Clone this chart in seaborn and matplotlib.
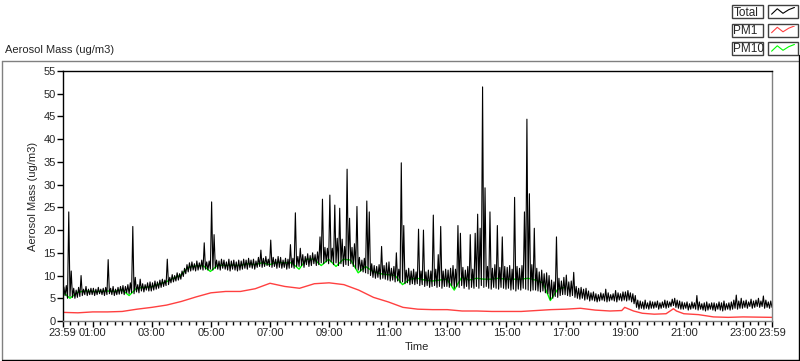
import numpy as np
import matplotlib
matplotlib.use("Agg")
import matplotlib.pyplot as plt
import seaborn as sns
from matplotlib.lines import Line2D
from matplotlib.patches import Rectangle

# clock hours, the record starts at 23:59 of the previous day
start_hour = -1 / 60
end_hour = 23 + 59 / 60

# Total aerosol mass (ug/m3): lowest and highest reading in each 5-minute window
total_low = [
    5.5, 5.6, 5.0, 5.4, 5.2, 5.0, 5.2, 5.4, 5.6, 5.8, 5.6, 5.8,            # 00
    5.8, 5.6, 5.8, 6.0, 5.8, 5.6, 5.8, 6.0, 5.8, 5.6, 5.8, 5.9,            # 01
    6.0, 5.8, 6.2, 6.0, 6.2, 6.0, 6.4, 6.2, 6.6, 6.4, 6.8, 6.6,            # 02
    6.6, 6.8, 7.0, 7.2, 7.4, 7.6, 7.8, 8.0, 8.4, 8.6, 8.8, 9.0,            # 03
    9.2, 9.8, 10.4, 10.8, 11.0, 11.2, 11.0, 11.2, 11.4, 11.2, 11.4, 11.2,  # 04
    11.4, 11.2, 11.6, 11.4, 11.2, 11.6, 11.4, 11.2, 11.0, 11.4, 11.2, 11.0,  # 05
    11.2, 11.4, 11.6, 11.4, 11.8, 11.6, 11.4, 11.8, 12.0, 11.8, 12.0, 12.2,  # 06
    12.0, 11.8, 12.0, 11.6, 11.8, 11.6, 11.8, 11.4, 11.6, 11.8, 11.6, 12.0,  # 07
    12.0, 12.2, 11.8, 12.4, 12.0, 12.2, 12.6, 12.2, 12.4, 12.8, 12.6, 13.0,  # 08
    12.6, 13.0, 12.4, 12.8, 12.2, 12.6, 12.0, 12.4, 12.2, 12.6, 12.0, 11.6,  # 09
    11.2, 11.0, 10.8, 10.6, 10.4, 10.0, 9.6, 9.4, 9.6, 9.2, 9.4, 9.2,      # 10
    9.0, 8.8, 9.0, 8.6, 8.8, 8.4, 8.6, 8.2, 8.4, 8.0, 8.2, 8.0,            # 11
    8.2, 7.8, 8.0, 7.6, 7.8, 7.4, 7.6, 7.8, 7.4, 7.6, 7.2, 7.6,            # 12
    7.6, 7.4, 7.8, 7.2, 7.6, 7.4, 7.8, 7.2, 7.6, 7.0, 7.4, 7.2,            # 13
    7.6, 7.2, 7.8, 7.4, 7.6, 7.2, 7.0, 7.4, 7.2, 7.0, 7.4, 7.2,            # 14
    7.0, 7.2, 6.8, 7.0, 6.6, 7.0, 6.8, 7.2, 7.0, 6.8, 6.6, 6.8,            # 15
    6.8, 6.6, 6.4, 6.6, 6.2, 6.0, 4.8, 5.0, 5.4, 5.2, 5.6, 5.8,            # 16
    5.8, 5.6, 5.4, 5.6, 5.2, 5.0, 4.8, 5.0, 4.6, 4.8, 4.4, 4.6,            # 17
    4.4, 4.2, 4.4, 4.6, 4.4, 4.2, 4.4, 4.6, 4.4, 4.2, 4.6, 4.4,            # 18
    4.6, 4.4, 4.6, 4.2, 3.8, 3.0, 2.6, 2.8, 2.6, 2.8, 2.6, 2.8,            # 19
    2.8, 3.0, 2.6, 2.8, 3.0, 2.8, 3.0, 3.2, 3.4, 3.0, 2.8, 2.6,            # 20
    2.6, 2.8, 2.4, 2.6, 2.8, 2.6, 2.4, 2.6, 2.4, 2.2, 2.4, 2.6,            # 21
    2.4, 2.2, 2.6, 2.4, 2.2, 2.4, 2.6, 2.4, 2.6, 2.8, 2.6, 2.8,            # 22
    2.8, 3.0, 2.8, 3.2, 2.8, 3.0, 3.2, 3.0, 3.2, 2.8, 3.0, 2.8, 3.0,       # 23
]
total_high = [
    7.5, 7.8, 24.0, 11.0, 7.2, 6.8, 7.4, 10.0, 7.0, 7.6, 7.0, 7.2,        # 00
    7.2, 7.0, 7.4, 7.0, 7.2, 7.4, 13.5, 7.2, 7.6, 7.0, 7.4, 7.6,          # 01
    7.8, 7.6, 8.0, 8.4, 20.8, 9.6, 8.0, 9.2, 8.2, 8.0, 8.4, 8.6,          # 02
    8.4, 8.8, 8.6, 9.0, 9.2, 9.0, 13.6, 9.6, 10.2, 10.0, 10.6, 10.4,      # 03
    11.0, 11.6, 12.4, 12.8, 13.0, 12.6, 13.2, 12.8, 13.4, 17.2, 13.0, 13.2,  # 04
    26.2, 19.0, 13.4, 13.2, 13.6, 13.4, 13.0, 13.6, 13.2, 13.4, 13.0, 13.4,  # 05
    13.2, 13.6, 13.4, 13.8, 13.4, 13.6, 13.2, 14.0, 15.6, 13.8, 14.2, 13.6,  # 06
    17.8, 14.0, 13.6, 14.2, 14.0, 13.4, 13.8, 13.6, 16.8, 13.8, 23.8, 14.2,  # 07
    16.0, 14.6, 14.2, 14.8, 14.4, 15.0, 14.6, 15.2, 18.5, 26.8, 16.2, 16.0,  # 08
    27.7, 16.0, 25.5, 18.2, 24.8, 18.0, 16.4, 33.4, 22.6, 16.2, 17.0, 25.2,  # 09
    14.0, 13.4, 13.8, 26.4, 24.0, 12.6, 12.2, 12.0, 12.4, 16.4, 12.2, 12.8,  # 10
    13.0, 11.6, 12.0, 15.0, 11.4, 34.8, 21.0, 11.2, 11.6, 11.0, 11.4, 10.8,  # 11
    20.2, 11.0, 20.0, 10.8, 11.2, 11.0, 23.3, 11.4, 14.6, 20.8, 11.0, 11.4,  # 12
    11.2, 11.6, 12.2, 11.4, 21.0, 19.3, 11.8, 11.2, 12.0, 19.0, 11.4, 19.3,  # 13
    23.5, 20.4, 51.5, 29.3, 12.0, 24.0, 11.6, 12.4, 21.0, 11.8, 18.5, 12.0,  # 14
    11.8, 12.2, 11.4, 27.2, 12.0, 11.6, 12.2, 24.0, 44.4, 28.0, 12.4, 20.4,  # 15
    11.6, 10.8, 11.2, 10.4, 10.6, 10.0, 9.0, 8.6, 18.5, 9.4, 8.8, 9.6,       # 16
    10.1, 8.6, 8.8, 10.7, 7.6, 7.2, 7.4, 7.0, 7.2, 6.6, 6.2, 6.4,            # 17
    6.0, 5.8, 6.2, 6.0, 7.0, 6.2, 5.8, 6.0, 6.7, 6.2, 6.0, 6.4,              # 18
    6.4, 6.7, 6.2, 6.0, 5.6, 4.6, 4.4, 4.2, 4.6, 4.0, 4.4, 4.2,              # 19
    4.2, 4.4, 4.0, 4.2, 4.6, 4.4, 4.2, 4.8, 5.0, 4.6, 4.4, 4.2,              # 20
    4.0, 4.2, 3.8, 4.2, 4.0, 5.6, 4.2, 3.8, 4.0, 4.2, 3.8, 4.0,              # 21
    4.0, 3.8, 4.2, 4.0, 4.4, 3.8, 4.0, 4.2, 4.6, 5.7, 4.4, 5.0,              # 22
    4.4, 4.6, 4.2, 4.8, 4.4, 4.6, 5.0, 4.4, 5.5, 4.6, 4.2, 4.4, 4.0,         # 23
]

# PM10, one reading every 15 minutes until 17:00
pm10_mass = [
    6.4, 5.0, 6.3, 6.6,  6.5, 6.5, 6.6, 6.5,  6.9, 5.6, 7.2, 7.4,
    7.5, 8.1, 8.6, 9.4,  10.1, 11.8, 12.1, 12.2,  10.9, 12.3, 12.2, 12.3,
    12.2, 12.6, 12.4, 12.8,  12.4, 12.9, 12.8, 12.8,  11.4, 13.6, 13.6, 12.2,
    13.6, 12.0, 13.6, 13.4,  10.6, 12.0, 10.9, 10.4,  10.2, 10.0, 8.0, 9.2,
    9.4, 9.0, 8.8, 9.0,  9.2, 6.8, 9.6, 9.0,  9.4, 9.2, 9.2, 9.4,
    9.2, 9.2, 9.2, 9.4,  9.0, 8.4, 4.5, 7.0,  7.4,
]

# PM1 readings (clock hour, value)
pm1_hours = [-0.017, 0.5, 1.0, 1.5, 2.0, 2.5, 3.0, 3.5, 4.0, 4.5,
             5.0, 5.5, 6.0, 6.5, 7.0, 7.5, 8.0, 8.5, 9.0, 9.5,
             10.0, 10.5, 11.0, 11.5, 12.0, 12.5, 13.0, 13.5, 14.0, 14.5,
             15.0, 15.5, 16.0, 16.5, 17.0, 17.5, 18.0, 18.5, 18.9, 19.0,
             19.3, 19.6, 20.0, 20.4, 20.65, 20.75, 21.0, 21.5, 22.0, 22.5,
             23.0, 23.5, 23.983]
pm1_mass = [1.9, 1.8, 2.0, 2.0, 2.1, 2.6, 3.0, 3.5, 4.3, 5.3,
            6.2, 6.5, 6.5, 7.1, 8.3, 7.6, 7.2, 8.2, 8.4, 8.0,
            6.8, 5.2, 4.2, 3.0, 2.6, 2.5, 2.5, 2.2, 2.2, 2.1,
            2.1, 2.1, 2.3, 2.5, 2.6, 2.8, 2.4, 2.2, 2.3, 3.0,
            2.2, 1.7, 1.5, 1.6, 2.7, 2.2, 1.6, 1.4, 0.9, 0.8,
            0.9, 0.85, 0.8]

tick_hours = [start_hour] + list(range(1, 24, 2)) + [end_hour]
tick_labels = ["23:59"] + [f"{h:02d}:00" for h in range(1, 24, 2)] + ["23:59"]

# each 5-minute window gives its low reading, then its high reading 2.5 min later
total_mass = np.column_stack([total_low, total_high]).ravel()
total_hours = start_hour + np.arange(len(total_mass)) * 2.5 / 60
pm10_hours = start_hour + np.arange(len(pm10_mass)) * 15 / 60

sns.set_theme(style="white")
plt.rcParams["font.family"] = ["Liberation Sans", "DejaVu Sans"]
plt.rcParams["font.size"] = 8

fig = plt.figure(figsize=(8, 3.61), dpi=100)
ax = fig.add_axes([62.6 / 800, 1 - 321 / 361, (772 - 62.6) / 800, 250 / 361])

sns.lineplot(x=pm10_hours, y=pm10_mass, ax=ax, color="#00ff00", lw=1.0, estimator=None)
sns.lineplot(x=total_hours, y=total_mass, ax=ax, color="black", lw=0.8, estimator=None)
sns.lineplot(x=pm1_hours, y=pm1_mass, ax=ax, color="#ff4040", lw=1.0, estimator=None)

ax.set_xlim(start_hour, end_hour)
ax.set_ylim(0, 55)
ax.set_yticks(range(0, 56, 5))
ax.set_xticks(tick_hours)
ax.set_xticklabels(tick_labels)
ax.set_xticks([m / 4 for m in range(1, 96) if m % 8 != 4], minor=True)
ax.tick_params(axis="both", which="major", direction="out", length=4, width=1,
               color="black", labelsize=8, pad=1, bottom=True, left=True)
ax.tick_params(axis="x", which="minor", direction="out", length=3, width=1,
               color="black", bottom=True)
ax.set_xlabel("Time", fontsize=8, labelpad=3)
ax.set_ylabel("Aerosol Mass (ug/m3)", fontsize=8, labelpad=4)

for side in ["top", "left"]:
    ax.spines[side].set_color("black")
    ax.spines[side].set_linewidth(1)
for side in ["bottom", "right"]:
    ax.spines[side].set_color("#808080")
    ax.spines[side].set_linewidth(1)

# panel title and sunken frame
fig.text(5 / 800, 1 - 50 / 361, "Aerosol Mass (ug/m3)", fontsize=8, va="center", ha="left")
W, H = 800, 361
fig.add_artist(Line2D([2 / W, 798 / W], [1 - 61 / H, 1 - 61 / H], color="#808080", lw=1))
fig.add_artist(Line2D([2 / W, 2 / W], [1 - 61 / H, 1 - 359 / H], color="#808080", lw=1))
fig.add_artist(Line2D([2 / W, 799 / W], [1 - 359.5 / H, 1 - 359.5 / H], color="black", lw=1))
fig.add_artist(Line2D([798.5 / W, 798.5 / W], [1 - 55 / H, 1 - 360 / H], color="black", lw=1))

# legend: name box + swatch box per series
legend_items = [("Total", "black"), ("PM1", "#ff4040"), ("PM10", "#00ff00")]
for i, (name, col) in enumerate(legend_items):
    y_top = 5 + i * 18.5
    fig.add_artist(Rectangle((732 / W, 1 - (y_top + 13) / H), 31 / W, 13 / H,
                             transform=fig.transFigure, fill=False, ec="#404040", lw=1))
    fig.add_artist(Rectangle((768 / W, 1 - (y_top + 13) / H), 30 / W, 13 / H,
                             transform=fig.transFigure, fill=False, ec="#404040", lw=1))
    fig.text(733.5 / W, 1 - (y_top + 10.5) / H, name, fontsize=8.5, va="baseline", ha="left")
    sw = fig.add_axes([771 / W, 1 - (y_top + 11) / H, 24 / W, 9 / H])
    sw.plot([0, 1, 2, 3, 4], [0.2, 0.8, 0.3, 0.7, 0.95], color=col, lw=0.8)
    sw.set_xlim(-0.1, 4.1)
    sw.set_ylim(0, 1)
    sw.axis("off")

fig.savefig("out.png", dpi=100)
